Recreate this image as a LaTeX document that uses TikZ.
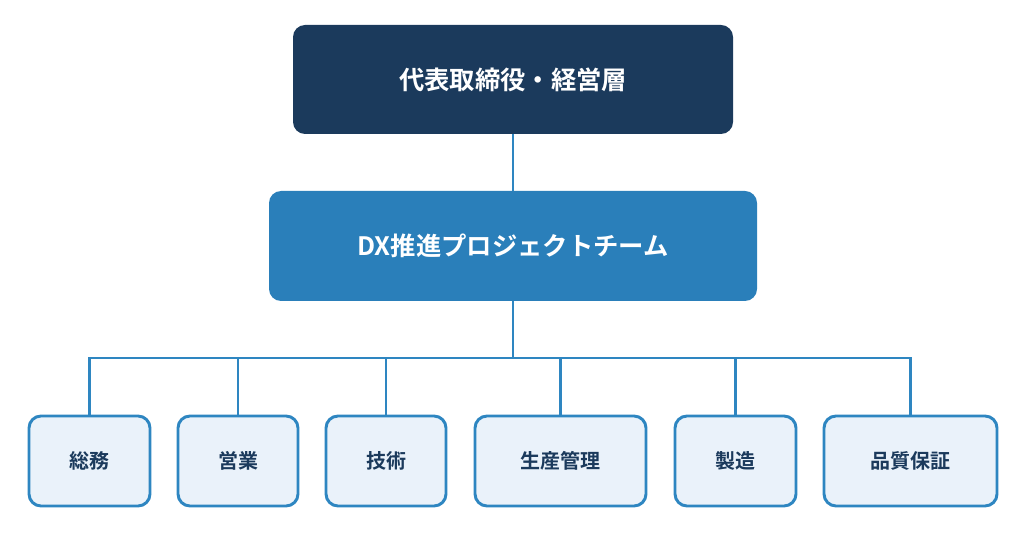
\documentclass[tikz,border=0pt]{standalone}
\usepackage{fontspec}
\setmainfont{Noto Sans CJK JP}[BoldFont={* Bold}]
\definecolor{topc}{HTML}{1B3A5C}
\definecolor{midc}{HTML}{2A7FBA}
\definecolor{linec}{HTML}{2E86C1}
\definecolor{botf}{HTML}{EAF2FA}
\begin{document}
\begin{tikzpicture}[x=0.75pt,y=-0.75pt,
  box/.style={rounded corners=9pt,inner sep=0pt,font=\bfseries},
  bot/.style={box,draw=linec,line width=2.2pt,fill=botf,text=topc,font=\bfseries\fontsize{15}{18}\selectfont},
  conn/.style={linec,line width=2.2pt}]
\useasboundingbox (0,0) rectangle (1020,541);
\node[box,fill=topc,text=white,minimum width=440*0.75pt,minimum height=109*0.75pt,font=\bfseries\fontsize{19}{23}\selectfont] (top) at (513,79.5) {代表取締役・経営層};
\node[box,fill=midc,text=white,minimum width=488*0.75pt,minimum height=110*0.75pt,font=\bfseries\fontsize{19}{23}\selectfont] (mid) at (513,246) {DX推進プロジェクトチーム};
\foreach \n/\cx/\w/\t in {a/89.5/121/総務,b/238/120/営業,c/386/120/技術,d/560.5/171/生産管理,e/735.5/121/製造,f/910.5/173/品質保証}{
  \node[bot,minimum width=\w*0.75pt,minimum height=90*0.75pt] (\n) at (\cx,461) {\t};
}
\coordinate (j) at (513,358);
\draw[conn] (top) -- (mid);
\draw[conn] (mid) -- (j);
\draw[conn] (a.north) |- (j) -| (f.north);
\foreach \n in {b,c,d,e}{\draw[conn] (\n.north) -- (\n.north |- j);}
\end{tikzpicture}
\end{document}
